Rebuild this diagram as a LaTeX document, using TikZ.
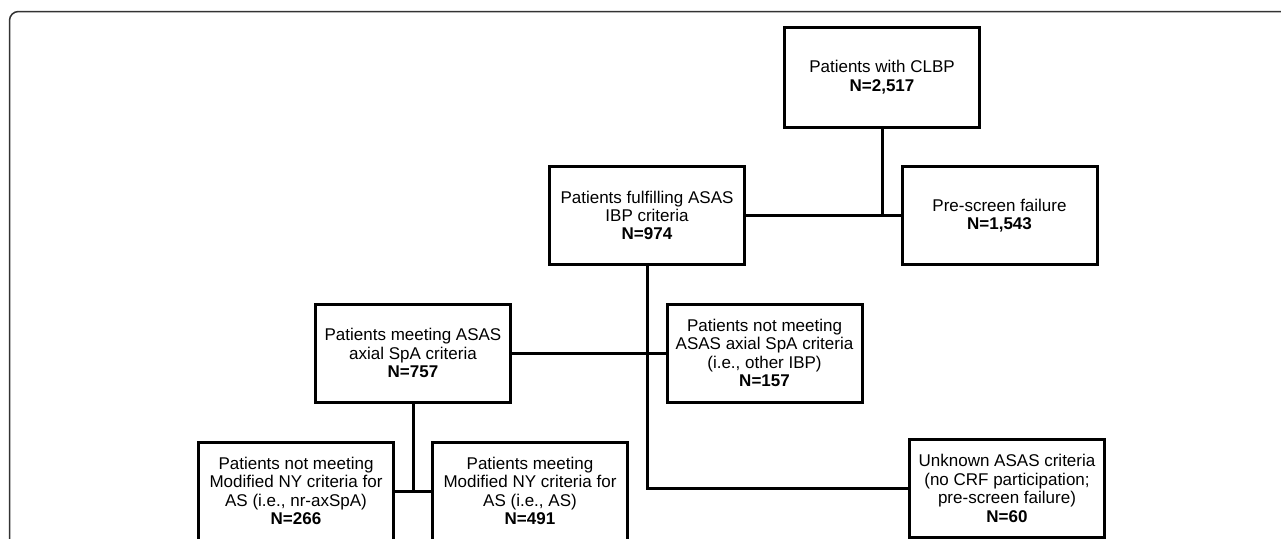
\documentclass[tikz,border=0pt]{standalone}
\usepackage{fontspec}
\setmainfont{Liberation Sans}
\tikzset{
  box/.style={draw, line width=3pt, minimum width=195pt, minimum height=98pt,
    align=center, inner sep=2pt, font=\fontsize{17}{18.4}\selectfont},
  link/.style={line width=3pt},
  frame/.style={draw=black!80, line width=1.5pt}
}
\begin{document}
\begin{tikzpicture}[x=1pt,y=-1pt]
\useasboundingbox (0,0) rectangle (1281,538);
\draw[frame, rounded corners=9pt] (1295,11.5) -- (9.5,11.5) -- (9.5,550);

\node[box, minimum height=100pt] (clbp) at (882,77) {Patients with CLBP\\\textbf{N=2,517}};
\node[box] (ibp) at (647,215.5) {Patients fulfilling ASAS\\IBP criteria\\\textbf{N=974}};
\node[box] (pre) at (999.5,215.5) {Pre-screen failure\\\textbf{N=1,543}};
\node[box] (axial) at (413,353) {Patients meeting ASAS\\axial SpA criteria\\\textbf{N=757}};
\node[box] (other) at (764.5,353) {Patients not meeting\\ASAS axial SpA criteria\\(i.e., other IBP)\\\textbf{N=157}};
\node[box] (unk) at (1007,488.5) {Unknown ASAS criteria\\(no CRF participation;\\pre-screen failure)\\\textbf{N=60}};
\node[box] (nr) at (296,491) {Patients not meeting\\Modified NY criteria for\\AS (i.e., nr-axSpA)\\\textbf{N=266}};
\node[box] (as) at (530,491) {Patients meeting\\Modified NY criteria for\\AS (i.e., AS)\\\textbf{N=491}};

\coordinate (j1) at (clbp.south |- ibp.east);
\draw[link] (clbp.south) -- (j1);
\draw[link] (ibp.east) -- (pre.west);
\coordinate (j2) at (ibp.south |- unk.west);
\draw[link] (ibp.south) -- (j2) -- (unk.west);
\draw[link] (axial.east) -- (other.west);
\coordinate (j3) at (axial.south |- nr.east);
\draw[link] (axial.south) -- (j3);
\draw[link] (nr.east) -- (as.west);
\end{tikzpicture}
\end{document}
